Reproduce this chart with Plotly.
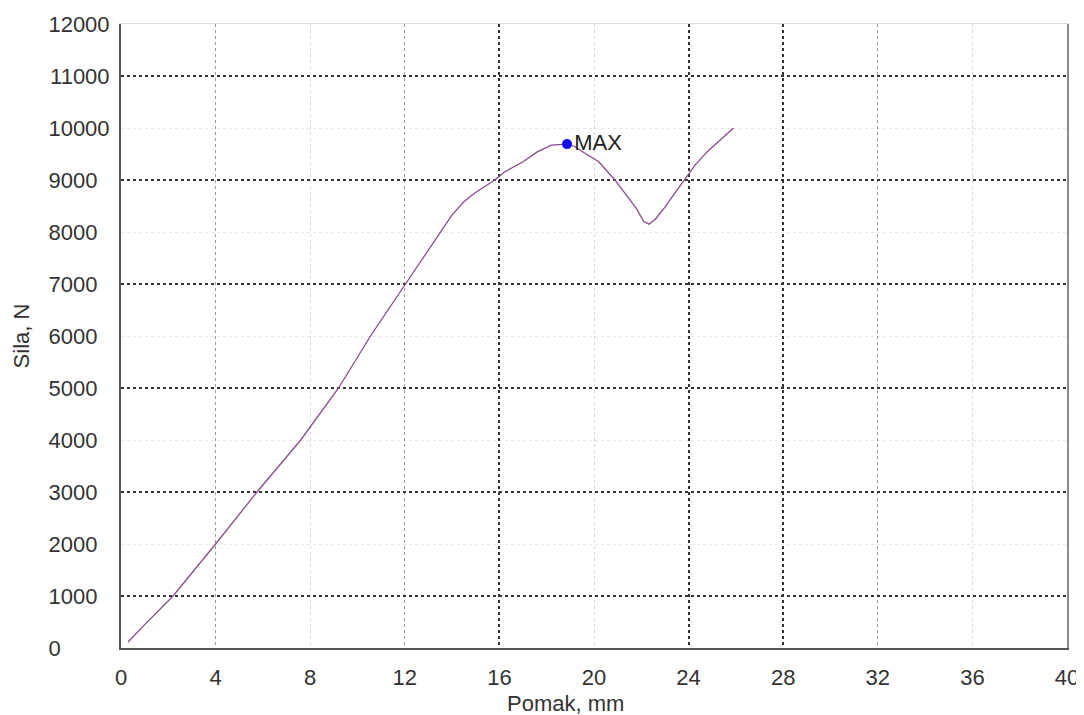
import plotly.graph_objects as go

# Data
pomak_mm = [0.3, 1.0, 2.2, 4.0, 5.75, 7.6, 9.2, 10.55, 12.03, 13.5, 14.0, 14.5, 14.9, 15.4,
            15.8, 16.2, 17.0, 17.6, 18.2, 18.86, 19.2, 19.6, 20.2, 20.85, 21.3, 21.8, 22.1,
            22.33, 22.6, 23.0, 23.5, 23.9, 24.3, 24.8, 25.3, 25.9]
sila_n = [115, 450, 1000, 2000, 3000, 4000, 5000, 6000, 7000, 8000, 8330, 8580, 8730, 8880,
          9000, 9150, 9350, 9540, 9670, 9690, 9640, 9520, 9350, 9020, 8750, 8450, 8200,
          8150, 8250, 8480, 8800, 9050, 9300, 9550, 9750, 10000]
max_x = [18.86]
max_y = [9690]
max_label = ["MAX"]

y_ticks = list(range(0, 12001, 1000))
x_ticks = list(range(0, 41, 4))
y_dark_grid = [1000, 3000, 5000, 7000, 9000, 11000]
x_mid_grid = [4, 12, 32]
x_dark_grid = [16, 24, 28]

NB = "\u00a0"
y_ticktext = [str(v) + NB * (2 * (5 - len(str(v)))) for v in y_ticks]

FONT = "Arial, Liberation Sans, sans-serif"
TXT = "#333333"
FS = 22

fig = go.Figure()
# dummy traces to activate overlay axes (no data shown)
fig.add_trace(go.Scatter(x=[None], y=[None], xaxis="x2", yaxis="y2", showlegend=False))
fig.add_trace(go.Scatter(x=[None], y=[None], xaxis="x3", yaxis="y", showlegend=False))
fig.add_trace(go.Scatter(x=pomak_mm, y=sila_n, mode="lines",
                         line=dict(color="#8a4a8a", width=1.3), showlegend=False,
                         hoverinfo="x+y"))
fig.add_trace(go.Scatter(x=max_x, y=max_y, mode="markers+text", text=max_label,
                         textposition="middle right",
                         textfont=dict(family=FONT, size=FS, color="#222222"),
                         marker=dict(color="#1010ee", size=10), showlegend=False))

# page body has an 8px margin, so the figure is offset by 8px in the window
fig.update_layout(
    width=1076, height=707,
    margin=dict(l=113, r=17, t=16, b=67, autoexpand=False),
    paper_bgcolor="white", plot_bgcolor="white",
    font=dict(family=FONT, size=FS, color=TXT),
    xaxis=dict(range=[0, 40], tickvals=x_ticks, ticks="", showgrid=True, automargin=False,
               gridcolor="#d8d8d8", griddash="dot", gridwidth=1,
               showline=True, linecolor="#555555", linewidth=2, zeroline=False,
               ticklabelstandoff=9, tickfont=dict(size=FS, color=TXT)),
    yaxis=dict(range=[0, 12000], tickvals=y_ticks, ticktext=y_ticktext, ticks="",
               automargin=False,
               showgrid=True, gridcolor="#e8e8e8", griddash="dot", gridwidth=1,
               showline=True, linecolor="#555555", linewidth=2, zeroline=False,
               ticklabelstandoff=5, tickfont=dict(size=FS, color=TXT),
               title=dict(text="Sila, N", font=dict(size=FS, color=TXT), standoff=13)),
    xaxis2=dict(range=[0, 40], overlaying="x", side="top", tickvals=x_mid_grid,
                showticklabels=False, ticks="", showgrid=True, gridcolor="#9a9a9a",
                griddash="dot", gridwidth=1, showline=True, linecolor="#dddddd",
                linewidth=1, zeroline=False, automargin=False),
    xaxis3=dict(range=[0, 40], overlaying="x", tickvals=x_dark_grid,
                showticklabels=False, ticks="", showgrid=True, gridcolor="#333333",
                griddash="dot", gridwidth=1.5, showline=False, zeroline=False,
                automargin=False),
    yaxis2=dict(range=[0, 12000], overlaying="y", side="right", tickvals=y_dark_grid,
                showticklabels=False, ticks="", showgrid=True, gridcolor="#333333",
                griddash="dot", gridwidth=1.5, showline=True, linecolor="#888888",
                linewidth=1.5, zeroline=False, automargin=False),
    annotations=[dict(text="Pomak, mm", xref="paper", yref="paper",
                      x=(565 - 121) / 946, y=-56 / 624, xanchor="center", yanchor="middle",
                      showarrow=False, font=dict(family=FONT, size=FS, color=TXT))],
)
fig.write_html("out.html")
